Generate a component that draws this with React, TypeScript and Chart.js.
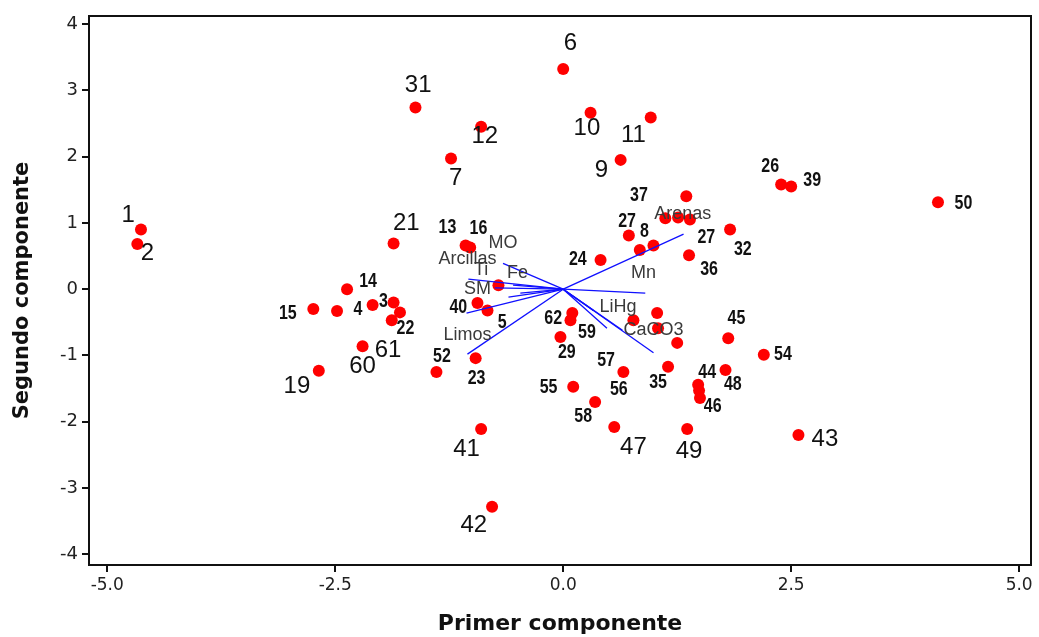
import { useEffect, useRef } from "react";
import { Chart, registerables } from "chart.js";

Chart.register(...registerables);

// Observation scores (first, second component)
const obsX = [-4.63, -4.67, 0.0, -1.62, -0.9, 0.3, 0.96, -1.23, 0.63, 2.39, 2.5, 4.11, 1.35, 1.12, 1.26, 1.39, 1.83, 0.72, 0.84, 0.99, 1.38, 0.41, -1.86, -1.07, -1.02, -0.71, -0.94, -0.83, 0.1, 0.08, -0.03, -0.96, -1.39, -2.37, -2.74, -2.48, -2.09, -1.86, -1.79, -1.88, -2.2, -2.68, 0.77, 1.03, 1.04, 1.25, 1.81, 2.2, 0.66, 1.15, 1.78, 1.48, 1.49, 1.5, 0.11, 0.35, 0.56, 1.36, 2.58, -0.9, -0.78];
const obsY = [0.9, 0.68, 3.32, 2.74, 2.45, 2.66, 2.59, 1.97, 1.95, 1.58, 1.55, 1.31, 1.4, 1.07, 1.08, 1.05, 0.9, 0.81, 0.59, 0.66, 0.51, 0.44, 0.69, 0.66, 0.63, 0.06, -0.21, -0.32, -0.36, -0.47, -0.72, -1.04, -1.25, 0.0, -0.3, -0.33, -0.24, -0.2, -0.35, -0.47, -0.86, -1.23, -0.47, -0.36, -0.59, -0.81, -0.74, -0.99, -1.25, -1.17, -1.22, -1.44, -1.53, -1.64, -1.47, -1.7, -2.08, -2.11, -2.2, -2.11, -3.28];

// Variable loading vectors (end points, start at origin)
const vectorX = [1.32, 0.9, 0.48, 0.65, 0.33, 0.99, -0.66, -1.04, -0.55, -0.47, -0.75, -0.6, -1.06, -1.05];
const vectorY = [0.83, -0.06, -0.59, -0.62, -0.32, -0.96, 0.39, 0.15, 0.06, -0.06, 0.02, -0.12, -0.36, -0.98];

// Variable names
const varNames = ["MO", "Arcillas", "Ti", "Fe", "SM", "Limos", "Mn", "LiHg", "CaCO3", "Arenas"];
const varLabelX = [-0.66, -1.05, -0.9, -0.5, -0.94, -1.05, 0.88, 0.6, 0.99, 1.31];
const varLabelY = [0.69, 0.45, 0.29, 0.24, 0.0, -0.69, 0.24, -0.27, -0.62, 1.14];

// Large observation labels
const bigLabels = ["1", "2", "6", "31", "12", "10", "11", "7", "9", "21", "61", "60", "19", "41", "42", "47", "49", "43"];
const bigLabelX = [-4.77, -4.56, 0.08, -1.59, -0.86, 0.26, 0.77, -1.18, 0.42, -1.72, -1.92, -2.2, -2.92, -1.06, -0.98, 0.77, 1.38, 2.87];
const bigLabelY = [1.11, 0.54, 3.71, 3.08, 2.3, 2.42, 2.32, 1.67, 1.79, 0.99, -0.92, -1.16, -1.47, -2.42, -3.56, -2.39, -2.45, -2.27];

// Small (bold) observation labels
const smallLabels = ["13", "16", "14", "15", "4", "3", "22", "40", "5", "52", "23", "24", "37", "27", "8", "27", "32", "36", "26", "39", "50", "62", "59", "29", "57", "55", "56", "58", "35", "44", "48", "46", "45", "54"];
const smallLabelX = [-1.27, -0.93, -2.14, -3.02, -2.25, -1.97, -1.73, -1.15, -0.67, -1.33, -0.95, 0.16, 0.83, 0.7, 0.89, 1.57, 1.97, 1.6, 2.27, 2.73, 4.39, -0.11, 0.26, 0.04, 0.47, -0.16, 0.61, 0.22, 1.04, 1.58, 1.86, 1.64, 1.9, 2.41];
const smallLabelY = [0.93, 0.92, 0.11, -0.36, -0.3, -0.18, -0.59, -0.27, -0.5, -1.01, -1.34, 0.45, 1.41, 1.02, 0.87, 0.78, 0.6, 0.3, 1.85, 1.64, 1.29, -0.44, -0.65, -0.96, -1.08, -1.49, -1.52, -1.92, -1.41, -1.25, -1.44, -1.77, -0.44, -0.99];

const xTicks = [-5, -2.5, 0, 2.5, 5];
const yTicks = [-4, -3, -2, -1, 0, 1, 2, 3, 4];

const labelPlugin = {
  id: "biplotLabels",
  afterDatasetsDraw(chart: any) {
    const { ctx, scales, chartArea } = chart;
    const xs = scales.x;
    const ys = scales.y;
    ctx.save();
    ctx.textAlign = "center";
    ctx.textBaseline = "middle";
    ctx.fillStyle = "#3a3a3a";
    ctx.font = '18px "Liberation Sans", Arial, sans-serif';
    varNames.forEach((t, i) => {
      ctx.fillText(t, xs.getPixelForValue(varLabelX[i]), ys.getPixelForValue(varLabelY[i]));
    });
    ctx.fillStyle = "#111";
    ctx.font = '24px "Liberation Sans", Arial, sans-serif';
    bigLabels.forEach((t, i) => {
      ctx.fillText(t, xs.getPixelForValue(bigLabelX[i]), ys.getPixelForValue(bigLabelY[i]));
    });
    ctx.font = 'bold 20px "Liberation Sans", Arial, sans-serif';
    smallLabels.forEach((t, i) => {
      ctx.save();
      ctx.translate(xs.getPixelForValue(smallLabelX[i]), ys.getPixelForValue(smallLabelY[i]));
      ctx.scale(0.8, 1);
      ctx.fillText(t, 0, 0);
      ctx.restore();
    });
    // frame
    ctx.strokeStyle = "#111";
    ctx.lineWidth = 2;
    ctx.strokeRect(chartArea.left, chartArea.top, chartArea.right - chartArea.left, chartArea.bottom - chartArea.top);
    ctx.restore();
  },
};

export default function App() {
  const canvasRef = useRef<HTMLCanvasElement | null>(null);

  useEffect(() => {
    if (!canvasRef.current) return;
    const vectorSets = vectorX.map((vx, i) => ({
      type: "line" as const,
      data: [
        { x: 0, y: 0 },
        { x: vx, y: vectorY[i] },
      ],
      borderColor: "#1010ff",
      borderWidth: 1.3,
      pointRadius: 0,
      showLine: true,
      fill: false,
    }));
    const chart = new Chart(canvasRef.current, {
      type: "scatter",
      data: {
        datasets: [
          ...vectorSets,
          {
            type: "scatter" as const,
            data: obsX.map((x, i) => ({ x, y: obsY[i] })),
            backgroundColor: "#ff0000",
            borderColor: "#ff0000",
            pointRadius: 6,
            borderWidth: 0,
          },
        ] as any,
      },
      options: {
        animation: false,
        responsive: true,
        maintainAspectRatio: false,
        layout: { padding: { top: 16, right: 8, left: 0, bottom: 0 } },
        plugins: { legend: { display: false }, tooltip: { enabled: false } },
        scales: {
          x: {
            type: "linear",
            min: -5.2,
            max: 5.13,
            afterBuildTicks: (s: any) => {
              s.ticks = xTicks.map((v) => ({ value: v }));
            },
            afterFit: (s: any) => {
              s.height = 72;
            },
            ticks: {
              callback: (v: any) => Number(v).toFixed(1),
              color: "#222",
              font: { family: '"DejaVu Sans", sans-serif', size: 17 },
              padding: 3,
              maxRotation: 0,
            },
            grid: { drawOnChartArea: false, drawTicks: true, tickLength: 7, color: "#111", lineWidth: 2 },
            border: { display: false },
            title: {
              display: true,
              text: "Primer componente",
              color: "#111",
              font: { family: '"DejaVu Sans", sans-serif', size: 22, weight: "bold" },
              padding: { top: 4, bottom: 0 },
            },
          },
          y: {
            type: "linear",
            min: -4.16,
            max: 4.12,
            afterBuildTicks: (s: any) => {
              s.ticks = yTicks.map((v) => ({ value: v }));
            },
            afterFit: (s: any) => {
              s.width = 89;
            },
            ticks: {
              callback: (v: any) => String(v),
              color: "#222",
              font: { family: '"DejaVu Sans", sans-serif', size: 18 },
              padding: 4,
            },
            grid: { drawOnChartArea: false, drawTicks: true, tickLength: 7, color: "#111", lineWidth: 2 },
            border: { display: false },
            title: {
              display: true,
              text: "Segundo componente",
              color: "#111",
              font: { family: '"DejaVu Sans", sans-serif', size: 21, weight: "bold" },
              padding: { top: 10, bottom: 0 },
            },
          },
        },
      },
      plugins: [labelPlugin],
    });
    return () => chart.destroy();
  }, []);

  return (
    <div style={{ position: "fixed", left: 0, top: 0, width: 1039, height: 637, background: "#fff" }}>
      <canvas ref={canvasRef} />
    </div>
  );
}
